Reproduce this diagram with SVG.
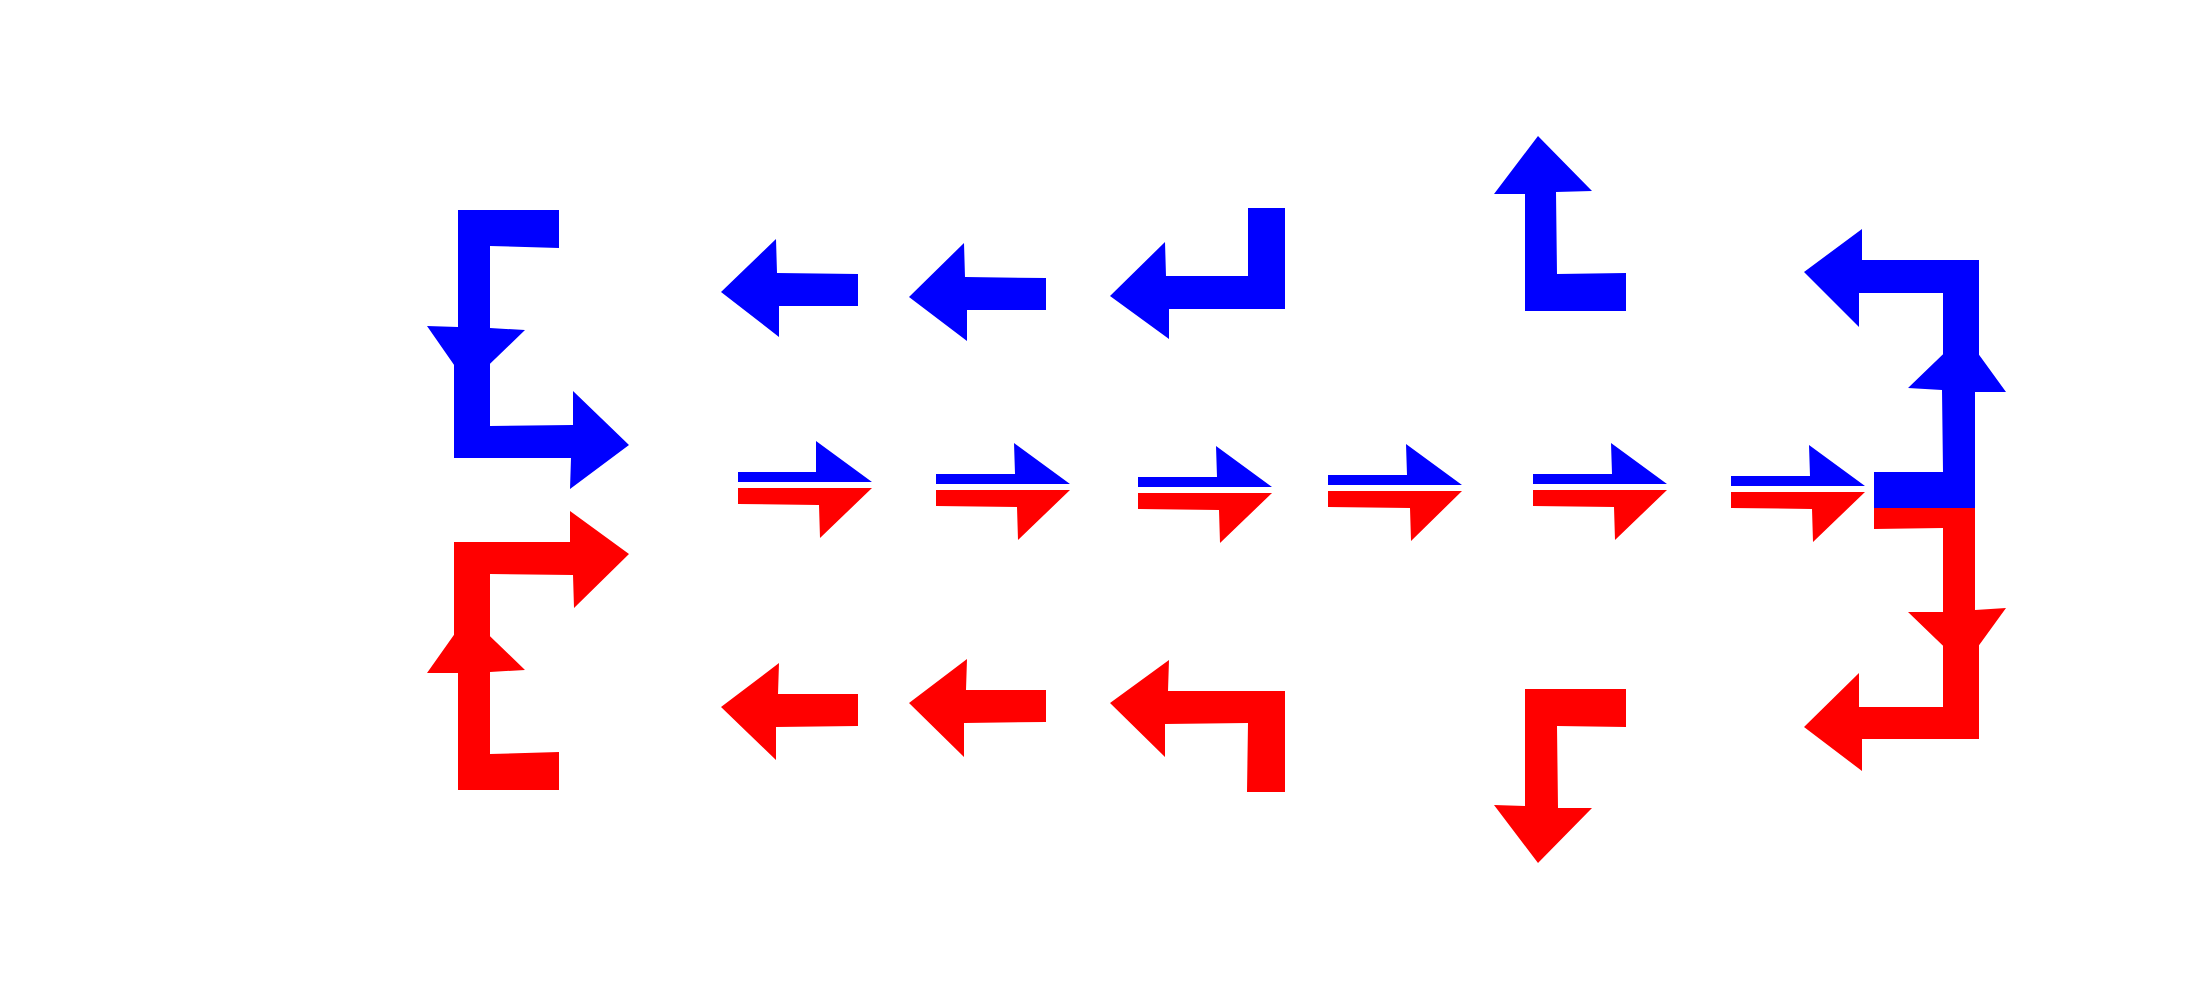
<svg xmlns="http://www.w3.org/2000/svg" width="2200" height="1000" viewBox="0 0 2200 1000">
<style>
.b{fill:#0000ff}
.r{fill:#ff0000}
</style>
<rect width="2200" height="1000" fill="#ffffff"/>
<g id="left-blue">
<polygon class="b" points="458,210 559,210 559,248 490,246 490,328 525,330 468,385 427,326 458,327"/>
<polygon class="b" points="454,360 490,360 490,426 573,425 573,391 629,445 570,489 571,458 454,458"/>
</g>
<g id="left-red">
<polygon class="r" points="454,542 570,542 570,511 629,554 574,608 573,575 490,574 490,640 454,640"/>
<polygon class="r" points="458,790 559,790 559,752 490,754 490,672 525,670 468,615 427,673 458,673"/>
</g>
<g id="top-blue-1"><polygon class="b" points="721,292 776,239 777,273 858,274 858,306 779,306 779,337"/></g>
<g id="top-blue-2"><polygon class="b" points="909,297 964,243 965,277 1046,278 1046,310 967,310 967,341"/></g>
<g id="top-blue-3"><polygon class="b" points="1110,296 1165,242 1166,276 1248,276 1248,208 1285,208 1285,309 1169,309 1169,339"/></g>
<g id="bottom-red-1"><polygon class="r" points="721,707 779,663 778,694 858,694 858,726 776,727 776,760"/></g>
<g id="bottom-red-2"><polygon class="r" points="909,703 967,659 966,690 1046,690 1046,722 964,723 964,757"/></g>
<g id="bottom-red-3"><polygon class="r" points="1110,703 1169,660 1168,691 1285,691 1285,792 1247,792 1248,723 1165,724 1165,757"/></g>
<g id="up-blue"><polygon class="b" points="1538,136 1592,191 1556,192 1557,274 1626,273 1626,311 1525,311 1525,194 1494,194"/></g>
<g id="down-red"><polygon class="r" points="1525,689 1626,689 1626,727 1557,726 1558,808 1592,808 1538,863 1494,805 1525,806"/></g>
<g id="right-blue">
<polygon class="b" points="1979,260 1979,360 1943,360 1943,293 1859,293 1859,327 1804,272 1862,229 1862,260"/>
<polygon class="b" points="1874,472 1943,472 1942,390 1908,388 1964,334 2006,392 1975,392 1975,508 1874,508"/>
</g>
<g id="right-red">
<polygon class="r" points="1874,508 1975,508 1975,610 2006,608 1964,666 1908,612 1943,612 1943,528 1874,529"/>
<polygon class="r" points="1979,640 1979,739 1862,739 1862,771 1804,727 1859,673 1859,707 1943,707 1943,640"/>
</g>
<g id="pair-1">
<polygon class="b" points="738,472 816,472 816,441 872,482 738,482"/>
<polygon class="r" points="738,488 872,488 820,538 819,505 738,504"/>
</g>
<g id="pair-2">
<polygon class="b" points="936,474 1015,474 1014,443 1070,484 936,484"/>
<polygon class="r" points="936,490 1070,490 1018,540 1017,507 936,506"/>
</g>
<g id="pair-3">
<polygon class="b" points="1138,477 1217,477 1216,446 1272,487 1138,487"/>
<polygon class="r" points="1138,493 1272,493 1220,543 1219,510 1138,509"/>
</g>
<g id="pair-4">
<polygon class="b" points="1328,475 1407,475 1406,444 1462,485 1328,485"/>
<polygon class="r" points="1328,491 1462,491 1411,541 1410,508 1328,507"/>
</g>
<g id="pair-5">
<polygon class="b" points="1533,474 1612,474 1611,443 1667,484 1533,484"/>
<polygon class="r" points="1533,490 1667,490 1615,540 1614,507 1533,506"/>
</g>
<g id="pair-6">
<polygon class="b" points="1731,476 1810,476 1809,445 1865,486 1731,486"/>
<polygon class="r" points="1731,492 1865,492 1813,542 1812,509 1731,508"/>
</g>
<g id="connectors"></g>
</svg>
